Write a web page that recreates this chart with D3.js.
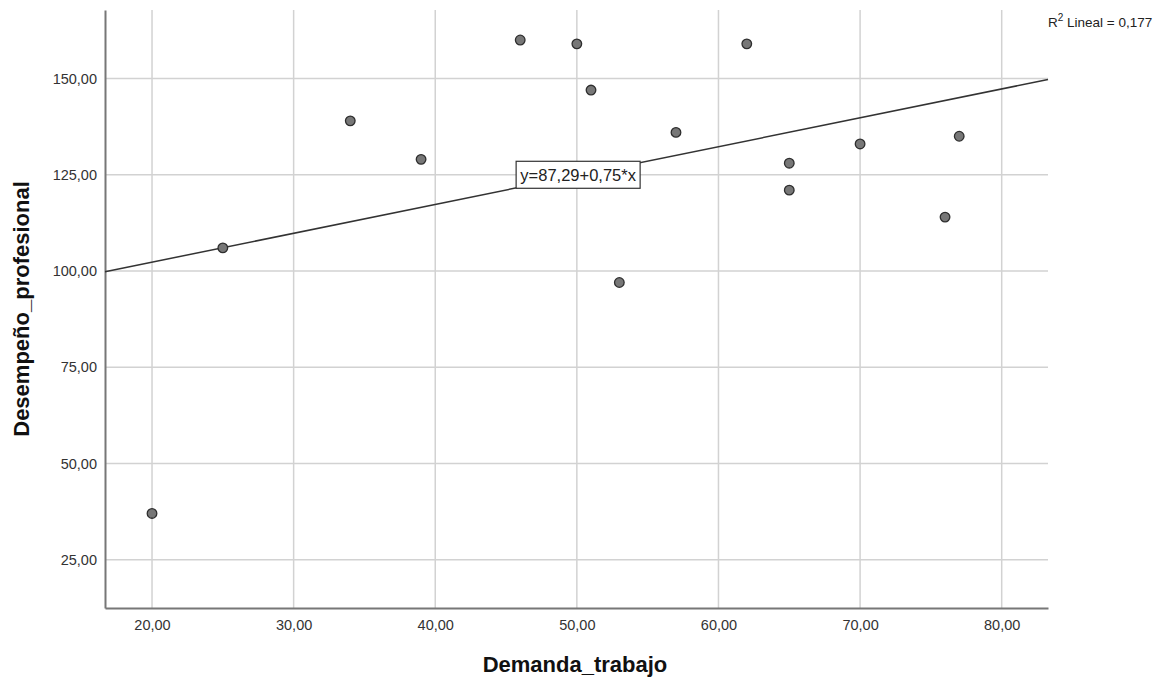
<!DOCTYPE html>
<html>
<head>
<meta charset="utf-8">
<script src="https://cdn.jsdelivr.net/npm/d3@7"></script>
<style>
  body { margin: 0; background: #fff; }
  svg text { font-family: Arial, "Liberation Sans", sans-serif; }
</style>
</head>
<body>
<svg id="chart"></svg>
<script>
// data
const demanda = [20, 25, 34, 39, 46, 50, 51, 53, 57, 62, 65, 65, 70, 76, 77];
const desempeno = [37, 106, 139, 129, 160, 159, 147, 97, 136, 159, 128, 121, 133, 114, 135];
const xTicks = [20, 30, 40, 50, 60, 70, 80];
const yTicks = [25, 50, 75, 100, 125, 150];
const fit = { intercept: 87.29, slope: 0.75, r2: "0,177" };

const width = 1170, height = 679;
const margin = { left: 105, right: 122, top: 10, bottom: 71 };

const svg = d3.select("#chart")
    .attr("width", width)
    .attr("height", height);

const x = d3.scaleLinear()
    .domain([16.68, 83.27])
    .range([margin.left, width - margin.right]);

const y = d3.scaleLinear()
    .domain([12.44, 167.8])
    .range([height - margin.bottom, margin.top]);

const fmt = d => d3.format(".2f")(d).replace(".", ",");

// grid lines
svg.append("g")
    .selectAll("line")
    .data(xTicks)
    .enter()
    .append("line")
    .attr("x1", d => x(d)).attr("x2", d => x(d))
    .attr("y1", y.range()[1]).attr("y2", y.range()[0])
    .style("stroke", "#d2d2d2")
    .style("stroke-width", "1.5px");

svg.append("g")
    .selectAll("line")
    .data(yTicks)
    .enter()
    .append("line")
    .attr("x1", x.range()[0]).attr("x2", x.range()[1])
    .attr("y1", d => y(d)).attr("y2", d => y(d))
    .style("stroke", "#d2d2d2")
    .style("stroke-width", "1.5px");

// axes
const xAxis = svg.append("g")
    .attr("transform", `translate(0,${y.range()[0]})`)
    .call(d3.axisBottom(x).tickValues(xTicks).tickFormat(fmt).tickSize(0).tickPadding(12));

const yAxis = svg.append("g")
    .attr("transform", `translate(${x.range()[0]},0)`)
    .call(d3.axisLeft(y).tickValues(yTicks).tickFormat(fmt).tickSize(0).tickPadding(8));

[xAxis, yAxis].forEach(a => {
    a.select(".domain").style("stroke", "#777").style("stroke-width", "2px");
    a.selectAll("text")
        .style("font-size", "14.5px")
        .style("fill", "#333");
});

// regression line
const fitLine = d3.line()
    .x(d => x(d))
    .y(d => y(fit.intercept + fit.slope * d));

svg.append("path")
    .datum(x.domain())
    .attr("d", fitLine)
    .style("fill", "none")
    .style("stroke", "#333")
    .style("stroke-width", "1.5px");

// points
svg.append("g")
    .selectAll("circle")
    .data(demanda.map((d, i) => [d, desempeno[i]]))
    .enter()
    .append("circle")
    .attr("cx", d => x(d[0]))
    .attr("cy", d => y(d[1]))
    .attr("r", 4.8)
    .style("fill", "#777")
    .style("stroke", "#2e2e2e")
    .style("stroke-width", "1.3px");

// equation label box
const labelX = 50.09;
const lx = x(labelX), ly = y(fit.intercept + fit.slope * labelX);
const label = svg.append("g").attr("transform", `translate(${lx},${ly})`);
label.append("rect")
    .attr("x", -62)
    .attr("y", -14)
    .attr("width", 124)
    .attr("height", 27)
    .style("fill", "#fff")
    .style("stroke", "#333")
    .style("stroke-width", "1.2px");
label.append("text")
    .attr("text-anchor", "middle")
    .attr("dy", "0.36em")
    .style("font-size", "16.5px")
    .style("fill", "#222")
    .text("y=87,29+0,75*x");

// R² annotation
const r2 = svg.append("text")
    .attr("x", 1048)
    .attr("y", 27)
    .style("font-size", "13.5px")
    .style("fill", "#222");
r2.append("tspan").text("R");
r2.append("tspan").attr("dy", -6).style("font-size", "10px").text("2");
r2.append("tspan").attr("dy", 6).text(" Lineal = " + fit.r2);

// axis titles
svg.append("text")
    .attr("x", 575)
    .attr("y", 672)
    .attr("text-anchor", "middle")
    .style("font-size", "22px")
    .style("font-weight", "bold")
    .style("fill", "#111")
    .text("Demanda_trabajo");

svg.append("text")
    .attr("transform", "translate(29,309) rotate(-90)")
    .attr("text-anchor", "middle")
    .style("font-size", "22px")
    .style("font-weight", "bold")
    .style("fill", "#111")
    .text("Desempeño_profesional");
</script>
</body>
</html>
